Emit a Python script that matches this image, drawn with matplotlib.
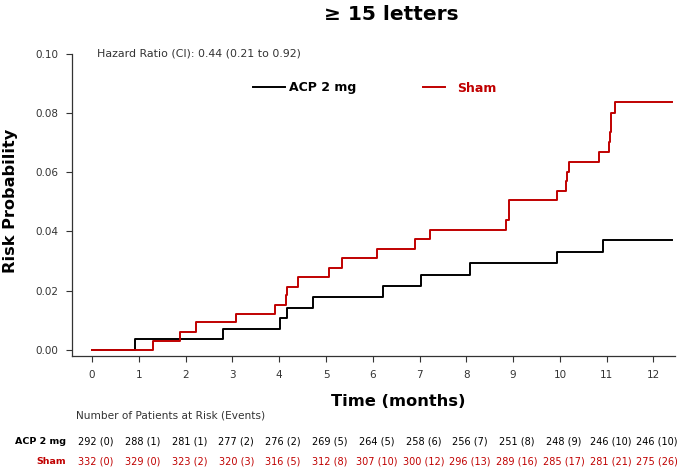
import matplotlib
matplotlib.use("Agg")
import matplotlib.pyplot as plt
from matplotlib.transforms import blended_transform_factory

plt.rcParams["font.family"] = ["DejaVu Sans"]

# ── Data ─────────────────────────────────────────────────────────────────────
ACP_TIMES = [0, 0.92, 2.80, 4.02, 4.17, 4.73, 6.22, 7.04, 8.07, 9.94, 10.93, 12.4]
ACP_RISK = [0, 0.0035, 0.0070, 0.0106, 0.0142, 0.0179, 0.0216, 0.0254, 0.0292,
            0.0331, 0.0372, 0.0372]

SHAM_TIMES = [0, 1.30, 1.87, 2.21, 3.08, 3.92, 4.14, 4.17, 4.41, 5.07, 5.35,
              6.08, 6.90, 7.23, 8.84, 8.91, 9.94, 10.12, 10.15, 10.19, 10.84,
              11.04, 11.07, 11.10, 11.18, 12.4]
SHAM_RISK = [0, 0.0030, 0.0061, 0.0093, 0.0122, 0.0152, 0.0185, 0.0213, 0.0247,
             0.0277, 0.0310, 0.0341, 0.0376, 0.0406, 0.0438, 0.0506, 0.0536,
             0.0569, 0.0602, 0.0634, 0.0670, 0.0704, 0.0736, 0.0800, 0.0838,
             0.0838]

MONTHS = list(range(13))
ACP_AT_RISK = ["292 (0)", "288 (1)", "281 (1)", "277 (2)", "276 (2)", "269 (5)",
               "264 (5)", "258 (6)", "256 (7)", "251 (8)", "248 (9)", "246 (10)",
               "246 (10)"]
SHAM_AT_RISK = ["332 (0)", "329 (0)", "323 (2)", "320 (3)", "316 (5)", "312 (8)",
                "307 (10)", "300 (12)", "296 (13)", "289 (16)", "285 (17)",
                "281 (21)", "275 (26)"]

RED = "#C00000"
GREY = "#333333"

# ── Figure ───────────────────────────────────────────────────────────────────
fig = plt.figure(figsize=(6.85, 4.70), dpi=100)
ax = fig.add_axes([72 / 685, 1 - 355.7 / 470, (675 - 72) / 685, (355.7 - 54) / 470])

acp_line, = ax.step(ACP_TIMES, ACP_RISK, where="post", color="black",
                    linewidth=1.4, label="ACP 2 mg")
sham_line, = ax.step(SHAM_TIMES, SHAM_RISK, where="post", color=RED,
                     linewidth=1.4, label="Sham")

ax.set_xlim(-0.43, 12.46)
ax.set_ylim(-0.00203, 0.10)
ax.set_xticks(MONTHS)
ax.set_yticks([0, 0.02, 0.04, 0.06, 0.08, 0.10])
ax.set_yticklabels(["0.00", "0.02", "0.04", "0.06", "0.08", "0.10"])
ax.tick_params(direction="out", length=4, width=0.8, colors=GREY,
               labelsize=7.5, pad=6)
for side in ("top", "right"):
    ax.spines[side].set_visible(False)
for side in ("left", "bottom"):
    ax.spines[side].set_color(GREY)
    ax.spines[side].set_linewidth(0.9)

fig.text(10.5 / 685, 1 - 201 / 470, "Risk Probability", fontsize=11.6,
         fontweight="bold", rotation=90, ha="center", va="center")
fig.text(398 / 685, 1 - 401 / 470, "Time (months)", fontsize=11.7,
         fontweight="bold", ha="center", va="center")
fig.text(391 / 685, 1 - 15 / 470, "≥ 15 letters", fontsize=14.5,
         fontweight="bold", ha="center", va="center")

ax.text(97 / 685, 1 - 54 / 470, "Hazard Ratio (CI): 0.44 (0.21 to 0.92)",
        transform=fig.transFigure, fontsize=7.9, color=GREY, va="center")

# two separate legend entries (the reference uses different handle lengths)
leg_prop = {"size": 9, "weight": "bold"}
leg1 = fig.legend([acp_line], ["ACP 2 mg"], loc="center left",
                  bbox_to_anchor=(253 / 685, 1 - 88 / 470), frameon=False,
                  handlelength=2.56, handletextpad=0.3, borderpad=0,
                  borderaxespad=0, prop=leg_prop)
leg2 = fig.legend([sham_line], ["Sham"], loc="center left",
                  bbox_to_anchor=(423 / 685, 1 - 88 / 470), frameon=False,
                  handlelength=1.76, handletextpad=0.95, borderpad=0,
                  borderaxespad=0, prop=leg_prop)
leg2.get_texts()[0].set_color(RED)

# ── Risk table ───────────────────────────────────────────────────────────────
tr = blended_transform_factory(ax.transData, fig.transFigure)
fig.text(76 / 685, 1 - 415.5 / 470, "Number of Patients at Risk (Events)",
         fontsize=7.6, color=GREY, va="center")
row_y = [1 - 441 / 470, 1 - 461 / 470]
fig.text(66 / 685, row_y[0], "ACP 2 mg", fontsize=6.8, fontweight="bold",
         color="black", ha="right", va="center")
fig.text(66 / 685, row_y[1], "Sham", fontsize=6.8, fontweight="bold",
         color=RED, ha="right", va="center")
for m, a, s in zip(MONTHS, ACP_AT_RISK, SHAM_AT_RISK):
    ax.text(m + 0.08, row_y[0], a, transform=tr, fontsize=7, color="black",
            ha="center", va="center")
    ax.text(m + 0.08, row_y[1], s, transform=tr, fontsize=7, color=RED,
            ha="center", va="center")

fig.savefig("out.png", dpi=100)
